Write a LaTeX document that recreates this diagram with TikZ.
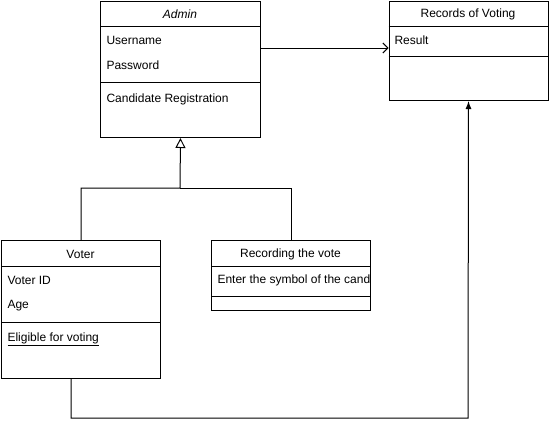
\documentclass[tikz,border=0pt]{standalone}
\usepackage{fontspec}
\setmainfont{Liberation Sans}
\usetikzlibrary{arrows.meta}
\begin{document}
\begin{tikzpicture}[x=1pt,y=-1pt,line width=1pt,
  font=\fontsize{12}{14}\selectfont,
  classbox/.style={draw,rectangle,inner sep=0pt,anchor=north west},
  lbl/.style={anchor=west,inner sep=0pt},
  ttl/.style={anchor=center,inner sep=0pt}]
\useasboundingbox[fill=white] (0,0) rectangle (549,429);

% boxes
\node[classbox,minimum width=160pt,minimum height=136pt] (admin) at (100,1) {};
\node[classbox,minimum width=159pt,minimum height=99pt] (records) at (388.5,1) {};
\node[classbox,minimum width=159pt,minimum height=138pt] (voter) at (1,240) {};
\node[classbox,minimum width=159pt,minimum height=70pt] (recvote) at (211,240) {};

% dividers
\draw ([yshift=-25pt]admin.north west) -- ([yshift=-25pt]admin.north east);
\draw ([yshift=-81pt]admin.north west) -- ([yshift=-81pt]admin.north east);
\draw ([yshift=-25pt]records.north west) -- ([yshift=-25pt]records.north east);
\draw ([yshift=-55pt]records.north west) -- ([yshift=-55pt]records.north east);
\draw ([yshift=-26pt]voter.north west) -- ([yshift=-26pt]voter.north east);
\draw ([yshift=-82pt]voter.north west) -- ([yshift=-82pt]voter.north east);
\draw ([yshift=-26pt]recvote.north west) -- ([yshift=-26pt]recvote.north east);
\draw ([yshift=-56pt]recvote.north west) -- ([yshift=-56pt]recvote.north east);

% texts
\node[ttl] (admintitle) at (180,14) {\itshape Admin};
\node[lbl] (user) at (106,40) {Username};
\node[lbl] (pass) at (106,65) {Password};
\node[lbl] (cand) at (106,99) {Candidate Registration};

\node[ttl] (rectitle) at (468,14) {Records of Voting};
\node[lbl] (result) at (394,40) {Result};

\node[ttl] (votertitle) at (80.5,254) {Voter};
\node[lbl] (vid) at (7,280) {Voter ID};
\node[lbl] (age) at (7,306) {Age};
\node[lbl] (elig) at (7,339) {\underline{Eligible for voting}};

\node[ttl] (rvtitle) at (290.5,254) {Recording the vote};
\begin{scope}
\clip (211.5,267) rectangle (369,295);
\node[lbl] (enter) at (217,280) {Enter the symbol of the candidate};
\end{scope}

% connectors
\coordinate (junc) at (180,188);
\coordinate (bend) at (468,418);
\draw[-{Triangle[open,length=10pt,width=10pt]}] (voter.north) |- (junc) -- (admin.south);
\draw (recvote.north) |- (junc);
\draw[-{Straight Barb[length=5pt,width=10pt]}] ([yshift=-47pt]admin.north east) -- ([yshift=-47pt]records.north west);
\draw[-{Latex[length=8pt,width=6pt]}] ([xshift=-10pt]voter.south) |- (bend) -- (records.south);
\end{tikzpicture}
\end{document}
